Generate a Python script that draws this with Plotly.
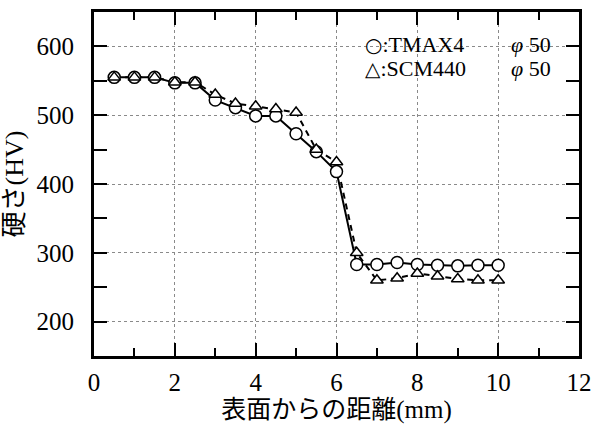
import plotly.graph_objects as go

x_mm = [0.5, 1.0, 1.5, 2.0, 2.5, 3.0, 3.5, 4.0, 4.5, 5.0, 5.5, 6.0, 6.5, 7.0, 7.5, 8.0, 8.5, 9.0, 9.5, 10.0]
tmax4 = [555, 555, 555, 547, 547, 522, 511, 499, 499, 473, 447, 418, 283, 283, 286, 283, 282, 281, 282, 282]
scm440 = [555, 555, 555, 548, 548, 530, 517, 513, 509, 504, 450, 432, 300, 260, 263, 270, 266, 262, 260, 260]

serif = "Liberation Serif, Times New Roman, Noto Sans CJK JP"
cjk = "Liberation Serif, Noto Sans CJK JP"

fig = go.Figure()
# lines
fig.add_trace(go.Scatter(x=x_mm, y=scm440, mode="lines",
                         line=dict(color="black", width=2, dash="6px,5px"), showlegend=False))
fig.add_trace(go.Scatter(x=x_mm, y=tmax4, mode="lines",
                         line=dict(color="black", width=2), showlegend=False))
# markers
fig.add_trace(go.Scatter(x=x_mm, y=tmax4, mode="markers", name="TMAX4",
                         marker=dict(symbol="circle", size=12, color="white",
                                     line=dict(color="black", width=1.5)), showlegend=False))
fig.add_trace(go.Scatter(x=x_mm, y=scm440, mode="markers", name="SCM440",
                         marker=dict(symbol="triangle-up", size=11, color="white",
                                     line=dict(color="black", width=1.5)), showlegend=False))

axis_common = dict(
    showline=True, linecolor="black", linewidth=3, mirror="allticks",
    ticks="inside", ticklen=13, tickwidth=1.5, tickcolor="black",
    showgrid=True, gridcolor="#8a8a8a", griddash="dot", gridwidth=1,
    zeroline=False, ticklabeloverflow="allow",
    tickfont=dict(family=serif, size=25, color="black"),
)

fig.update_xaxes(range=[0, 12], tick0=0, dtick=2, ticklabelstandoff=2,
                 minor=dict(ticks="inside", dtick=1, ticklen=8, tickwidth=1.5, tickcolor="black", showgrid=False),
                 title=dict(text="表面からの距離(mm)", font=dict(family=cjk, size=25, color="black"), standoff=0),
                 **axis_common)
fig.update_yaxes(range=[150, 650], tickvals=[200, 300, 400, 500, 600], ticklabelstandoff=12,
                 minor=dict(ticks="inside", tickvals=[250, 350, 450, 550], ticklen=13, tickwidth=1.5, tickcolor="black", showgrid=False),
                 title=dict(text="硬さ(HV)", font=dict(family=cjk, size=26, color="black"), standoff=6),
                 **axis_common)

legend_names = ["TMAX4", "SCM440"]
legend_syms = ["○", "△"]
legend_y = [0.905, 0.835]
for name, sym, yy in zip(legend_names, legend_syms, legend_y):
    fig.add_annotation(xref="paper", yref="paper", x=0.555, y=yy, xanchor="left", yanchor="middle",
                       text="<span style='font-family:DejaVu Sans;font-size:20px'>" + sym + "</span>:" + name,
                       showarrow=False, font=dict(family=serif, size=22, color="black"))
    fig.add_annotation(xref="paper", yref="paper", x=0.856, y=yy, xanchor="left", yanchor="middle",
                       text="<i>φ</i> 50", showarrow=False, font=dict(family=serif, size=22, color="black"))

fig.update_layout(width=601, height=426, margin=dict(l=94, r=10, t=9, b=70),
                  plot_bgcolor="white", paper_bgcolor="white", showlegend=False)

fig.write_html("out.html")
